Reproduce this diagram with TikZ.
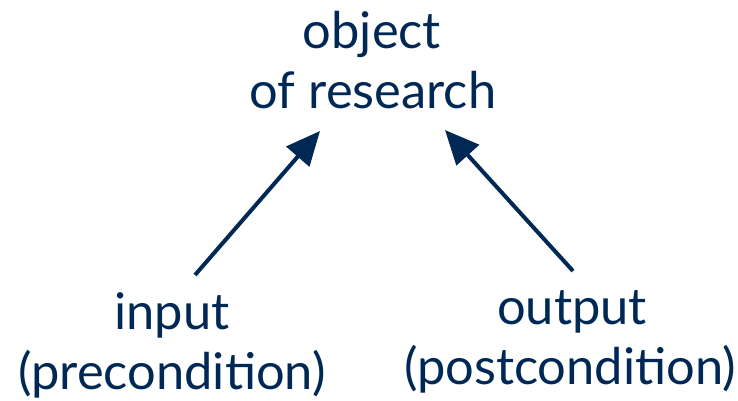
\documentclass[tikz,border=0pt]{standalone}
\usepackage{fontspec}
\setmainfont{Lato}
\usetikzlibrary{arrows.meta}
\definecolor{navy}{HTML}{002855}
\begin{document}
\begin{tikzpicture}[x=1pt,y=-1pt,
  label/.style={text=navy,font=\fontsize{50.6}{60}\selectfont,anchor=base,inner sep=0pt},
  link/.style={draw=navy,line width=4pt,-{Triangle[length=34pt,width=30pt]}}]
\useasboundingbox (0,0) rectangle (738,401);
% top label
\node[label] (obj1) at (372,49) {object};
\node[label] (obj2) at (373,109) {of research};
% input side
\node[label] (in1) at (172,329) {input};
\node[label] (in2) at (172,389) {(precondition)};
% output side
\node[label] (out1) at (572,324) {output};
\node[label] (out2) at (570,384) {(postcondition)};
% arrow end points
\coordinate (inTail) at (195,275);
\coordinate (inTip) at (320,131);
\coordinate (outTail) at (573,271);
\coordinate (outTip) at (445,130);
\draw[link] (inTail) -- (inTip);
\draw[link] (outTail) -- (outTip);
\end{tikzpicture}
\end{document}
